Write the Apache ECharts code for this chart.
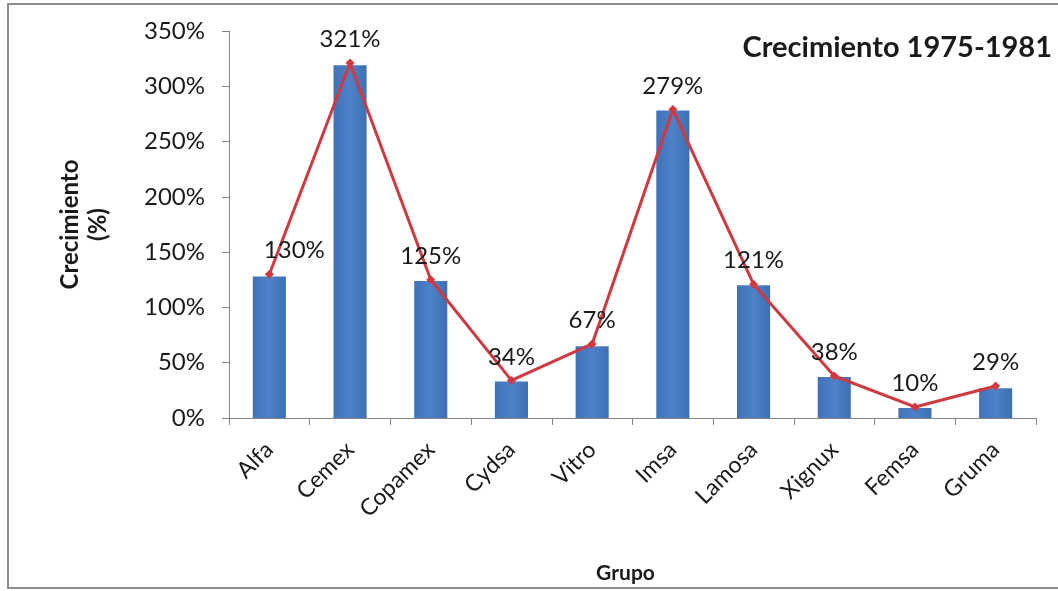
<!DOCTYPE html>
<html>
<head>
<meta charset="utf-8">
<script src="https://cdn.jsdelivr.net/npm/echarts@6/dist/echarts.min.js"></script>
<style>
html,body{margin:0;padding:0;background:#fff;}
#c{width:1058px;height:591px;}
</style>
</head>
<body>
<div id="c"></div>
<script>
const categories = ['Alfa','Cemex','Copamex','Cydsa','Vitro','Imsa','Lamosa','Xignux','Femsa','Gruma'];
const barValues = [128, 319, 124, 33, 65, 278, 120, 37, 9, 27];
const lineValues = [130, 321, 125, 34, 67, 279, 121, 38, 10, 29];
const yTicks = {min: 0, max: 350, interval: 50};

const FONT = 'Lato, "Open Sans", sans-serif';
const chart = echarts.init(document.getElementById('c'), null, {renderer: 'canvas'});

const lineData = lineValues.map((v, i) => i === 0 ? {value: v, label: {offset: [25, 0]}} : v);

chart.setOption({
  animation: false,
  backgroundColor: '#fff',
  textStyle: {fontFamily: FONT},
  graphic: [{
    type: 'rect',
    shape: {x: 8, y: 4, width: 1070, height: 584},
    style: {fill: 'none', stroke: '#8c8c8c', lineWidth: 2},
    silent: true
  }],
  title: {
    text: 'Crecimiento 1975-1981',
    right: 1, top: 28,
    textStyle: {fontFamily: FONT, fontSize: 29, fontWeight: 'bold', color: '#1a1a1a'}
  },
  grid: {left: 229, right: 22, top: 31, bottom: 173},
  xAxis: {
    type: 'category',
    data: categories,
    name: 'Grupo',
    nameLocation: 'middle',
    nameGap: 145,
    nameTextStyle: {fontFamily: FONT, fontSize: 21, fontWeight: 'bold', color: '#1a1a1a', padding: [0, 14, 0, 0]},
    axisLine: {lineStyle: {color: '#868686', width: 1}},
    axisTick: {show: true, length: 7, lineStyle: {color: '#868686'}},
    axisLabel: {rotate: 45, fontSize: 23, color: '#1a1a1a', margin: 28, interval: 0}
  },
  yAxis: {
    type: 'value',
    min: yTicks.min, max: yTicks.max, interval: yTicks.interval,
    name: 'Crecimiento\n(%)',
    nameLocation: 'middle',
    nameGap: 117,
    nameRotate: 90,
    nameTextStyle: {fontFamily: FONT, fontSize: 24, fontWeight: 'bold', color: '#1a1a1a', lineHeight: 28},
    axisLine: {show: true, lineStyle: {color: '#868686', width: 1}},
    axisTick: {show: true, length: 7, inside: false, lineStyle: {color: '#868686'}},
    splitLine: {show: false},
    axisLabel: {formatter: '{value}%', fontSize: 24, color: '#1a1a1a', margin: 24}
  },
  series: [{
    type: 'bar',
    data: barValues,
    barWidth: '41%',
    itemStyle: {
      color: new echarts.graphic.LinearGradient(0, 0, 1, 0, [
        {offset: 0, color: '#3f72b8'},
        {offset: 0.5, color: '#4f81c8'},
        {offset: 1, color: '#3d6fb2'}
      ])
    },
    z: 2
  }, {
    type: 'line',
    data: lineData,
    symbol: 'diamond',
    symbolSize: 9,
    lineStyle: {color: '#d0393f', width: 3},
    itemStyle: {color: '#d0393f'},
    label: {
      show: true, position: 'top', distance: 7,
      formatter: '{c}%', fontSize: 24, color: '#1a1a1a', fontFamily: FONT
    },
    z: 3
  }]
});
</script>
</body>
</html>
